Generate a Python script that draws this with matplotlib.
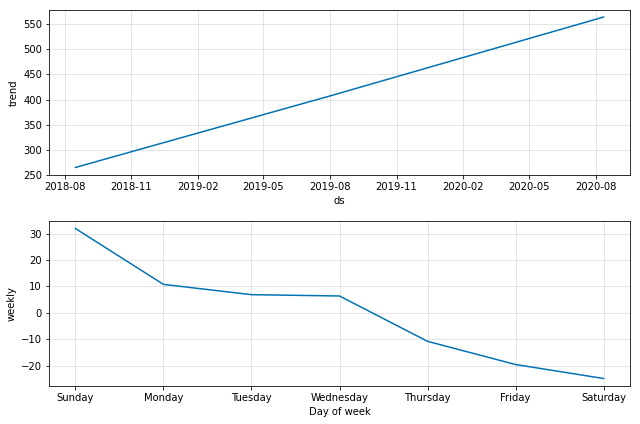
"""
Prophet components plot nachbauen: trend + weekly
"""

import matplotlib
matplotlib.use("Agg")
import matplotlib.pyplot as plt
import matplotlib.dates as mdates
import pandas as pd

# trend
trend_dates = ["2018-08-16", "2019-08-01", "2020-08-12"]
trend_values = [265, 407, 564]

# weekly
days = ["Sunday", "Monday", "Tuesday", "Wednesday", "Thursday", "Friday", "Saturday"]
weekly_values = [32.0, 10.8, 6.9, 6.4, -10.8, -19.6, -24.9]

LINE_COLOR = "#0072B2"


def main():
    fig = plt.figure(figsize=(640 / 72, 424 / 72), dpi=72)
    # Positionen in Pixeln wie im Original
    ax1 = fig.add_axes([49 / 640, 1 - 175 / 424, 581 / 640, 165 / 424])
    ax2 = fig.add_axes([49 / 640, 1 - 386 / 424, 581 / 640, 165 / 424])

    ds = pd.to_datetime(trend_dates)
    ax1.plot(ds, trend_values, ls="-", c=LINE_COLOR)
    ax1.xaxis.set_major_locator(mdates.MonthLocator(bymonth=[2, 5, 8, 11]))
    ax1.xaxis.set_major_formatter(mdates.DateFormatter("%Y-%m"))
    ax1.grid(True, which="major", c="gray", ls="-", lw=1, alpha=0.2)
    ax1.set_xlabel("ds")
    ax1.set_ylabel("trend")
    ax1.set_ylim(250, 578)

    x = range(len(days))
    ax2.plot(x, weekly_values, ls="-", c=LINE_COLOR)
    ax2.set_xticks(list(x))
    ax2.set_xticklabels(days)
    ax2.grid(True, which="major", c="gray", ls="-", lw=1, alpha=0.2)
    ax2.set_xlabel("Day of week")
    ax2.set_ylabel("weekly")

    fig.savefig("out.png", dpi=72)


if __name__ == "__main__":
    main()
